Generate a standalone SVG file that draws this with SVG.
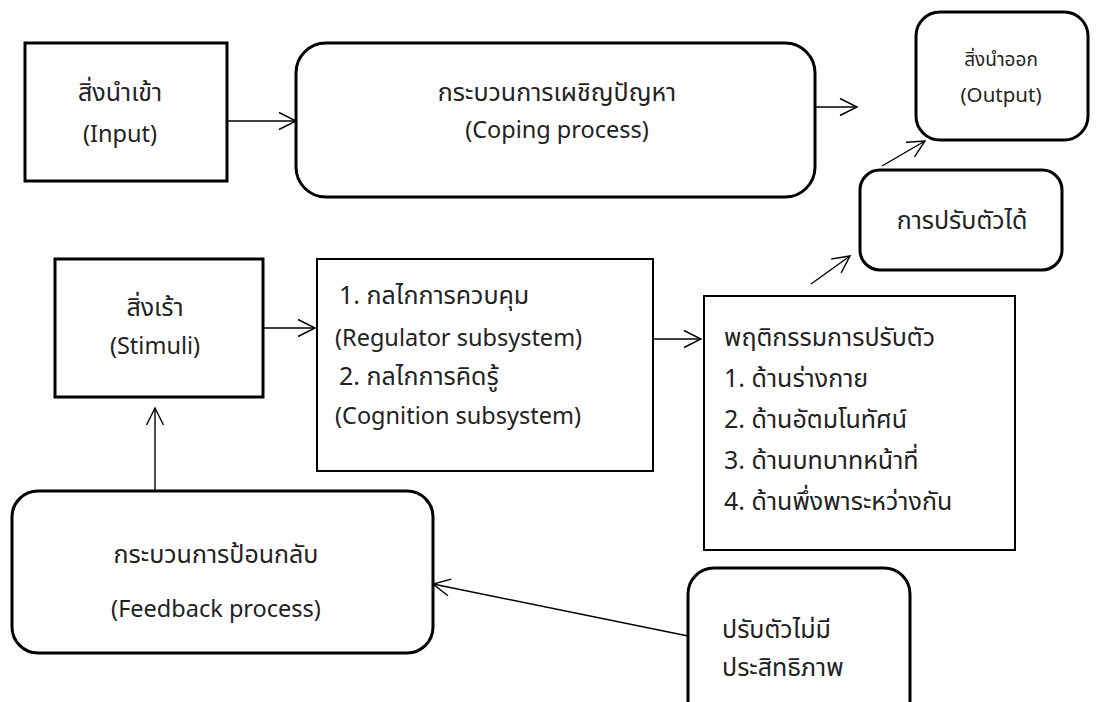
<svg xmlns="http://www.w3.org/2000/svg" width="1096" height="702" viewBox="0 0 1096 702">
<style>
text{font-family:"Noto Sans Thai","Noto Sans","DejaVu Sans",sans-serif;font-size:25px;fill:#222}
.en{font-size:23.5px}
.c{text-anchor:middle}
.box{fill:#fff;stroke:#000;stroke-width:2}
.bold{stroke-width:3}
.ln{stroke:#000;stroke-width:1.4;fill:none}
.sm{font-size:19px}
.sme{font-size:20.5px}
</style>
<defs>
<marker id="ah" markerWidth="24" markerHeight="24" refX="20" refY="12" orient="auto" markerUnits="userSpaceOnUse">
<path d="M3,3.5 L20,12 L3,20.5" fill="none" stroke="#000" stroke-width="1.4"/>
</marker>
</defs>
<g id="input"><rect class="box bold" x="25" y="43" width="202" height="138"/>
<text class="c" x="120" y="101">สิ่งนำเข้า</text><text class="c en" x="120" y="142">(Input)</text></g>
<g id="coping"><rect class="box bold" x="296" y="43" width="519" height="154" rx="30"/>
<text class="c" x="557" y="101">กระบวนการเผชิญปัญหา</text><text class="c en" x="557" y="138">(Coping process)</text></g>
<g id="output"><rect class="box bold" x="916" y="12" width="172" height="128" rx="24"/>
<text class="c sm" x="1001" y="66">สิ่งนำออก</text><text class="c sme" x="1001" y="102">(Output)</text></g>
<g id="adapt"><rect class="box bold" x="860" y="170" width="202" height="100" rx="20"/>
<text class="c" x="962" y="229">การปรับตัวได้</text></g>
<g id="stimuli"><rect class="box bold" x="55" y="259" width="208" height="138"/>
<text class="c" x="155" y="316">สิ่งเร้า</text><text class="c en" x="155" y="354">(Stimuli)</text></g>
<g id="mechanism"><rect class="box" x="317" y="259" width="336" height="212"/>
<text x="339" y="304">1. กลไกการควบคุม</text><text class="en" x="335" y="346">(Regulator subsystem)</text>
<text x="339" y="385"> 2. กลไกการคิดรู้</text><text class="en" x="335" y="424">(Cognition subsystem)</text></g>
<g id="behaviour"><rect class="box" x="704" y="296" width="311" height="254"/>
<text x="724" y="346">พฤติกรรมการปรับตัว</text><text x="724" y="387">1. ด้านร่างกาย</text>
<text x="724" y="428">2. ด้านอัตมโนทัศน์</text><text x="724" y="469">3. ด้านบทบาทหน้าที่</text>
<text x="724" y="510">4. ด้านพึ่งพาระหว่างกัน</text></g>
<g id="feedback"><rect class="box bold" x="12" y="491" width="421" height="162" rx="26"/>
<text class="c" x="216" y="563">กระบวนการป้อนกลับ</text><text class="c en" x="216" y="617">(Feedback process)</text></g>
<g id="ineffective"><rect class="box bold" x="688" y="568" width="222" height="160" rx="26"/>
<text x="722" y="638">ปรับตัวไม่มี</text><text x="722" y="676">ประสิทธิภาพ</text></g>
<g id="connectors">
<line class="ln" x1="228" y1="121" x2="296" y2="121" marker-end="url(#ah)"/>
<line class="ln" x1="815" y1="107" x2="857" y2="107" marker-end="url(#ah)"/>
<line class="ln" x1="811" y1="284" x2="850" y2="256" marker-end="url(#ah)"/>
<line class="ln" x1="882" y1="166" x2="925" y2="141" marker-end="url(#ah)"/>
<line class="ln" x1="264" y1="328" x2="315" y2="328" marker-end="url(#ah)"/>
<line class="ln" x1="653" y1="339" x2="701" y2="339" marker-end="url(#ah)"/>
<line class="ln" x1="155" y1="491" x2="155" y2="408" marker-end="url(#ah)"/>
<line class="ln" x1="688" y1="636" x2="433" y2="584" marker-end="url(#ah)"/>
</g>
</svg>
